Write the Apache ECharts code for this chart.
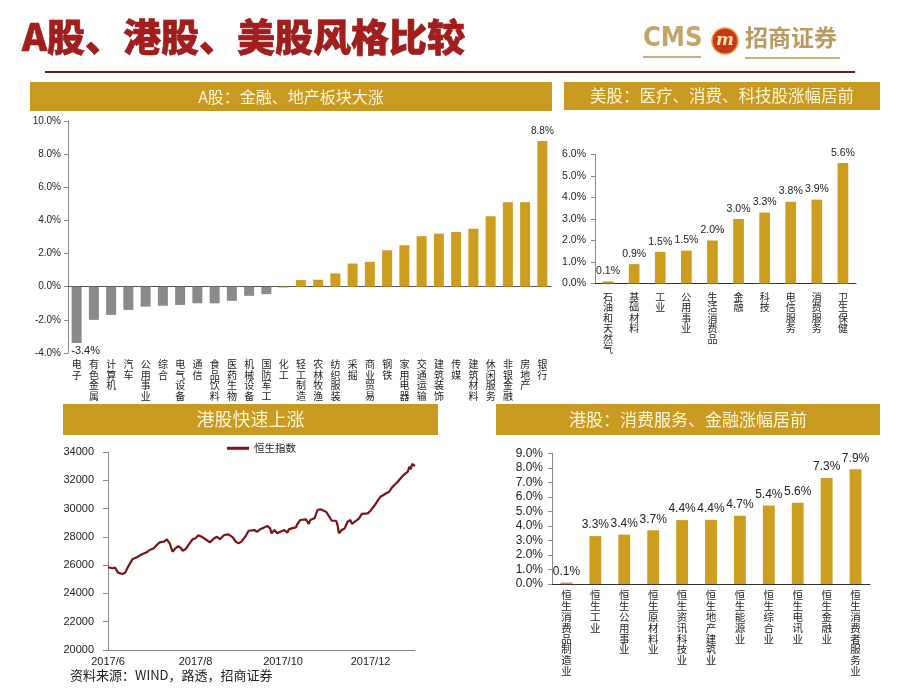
<!DOCTYPE html>
<html><head><meta charset="utf-8">
<script src="https://cdn.jsdelivr.net/npm/echarts@6/dist/echarts.min.js"></script>
<style>html,body{margin:0;padding:0;background:#fff}#c{width:920px;height:690px}</style>
</head><body><div id="c"></div>
<script>
// ---------- data ----------
const pageTitle = 'A股、港股、美股风格比较';
const panelTitles = ['A股：金融、地产板块大涨', '美股：医疗、消费、科技股涨幅居前', '港股快速上涨', '港股：消费服务、金融涨幅居前'];
const sourceText = '资料来源：WIND，路透，招商证券';

const aCats = ['电子','有色金属','计算机','汽车','公用事业','综合','电气设备','通信','食品饮料','医药生物','机械设备','国防军工','化工','轻工制造','农林牧渔','纺织服装','采掘','商业贸易','钢铁','家用电器','交通运输','建筑装饰','传媒','建筑材料','休闲服务','非银金融','房地产','银行'];
const aVals = [-3.4,-2.0,-1.7,-1.4,-1.2,-1.15,-1.1,-1.0,-1.0,-0.85,-0.55,-0.45,-0.05,0.4,0.42,0.8,1.4,1.5,2.2,2.5,3.05,3.2,3.3,3.5,4.25,5.1,5.1,8.8];

const usCats = ['石油和天然气','基础材料','工业','公用事业','生活消费品','金融','科技','电信服务','消费服务','卫生保健'];
const usVals = [0.1,0.9,1.47,1.53,2.0,3.0,3.3,3.8,3.9,5.6];

const hkCats = ['恒生消费品制造业','恒生工业','恒生公用事业','恒生原材料业','恒生资讯科技业','恒生地产建筑业','恒生能源业','恒生综合业','恒生电讯业','恒生金融业','恒生消费者服务业'];
const hkVals = [0.1,3.3,3.4,3.7,4.4,4.42,4.7,5.4,5.6,7.3,7.9];

const hsiName = '恒生指数';
const hsiStart = '2017-06-01';
const hsiEnd = '2018-01-01';
const hsiTickDates = ['2017-06-01','2017-08-01','2017-10-01','2017-12-01'];
const hsiDates = ['2017-06-01','2017-06-02','2017-06-04','2017-06-06','2017-06-08','2017-06-11','2017-06-13','2017-06-15','2017-06-18','2017-06-21','2017-06-25','2017-06-28','2017-06-30',
'2017-07-03','2017-07-05','2017-07-07','2017-07-10','2017-07-12','2017-07-14','2017-07-16','2017-07-18','2017-07-20','2017-07-22','2017-07-23','2017-07-25','2017-07-27','2017-07-30',
'2017-08-01','2017-08-03','2017-08-06','2017-08-08','2017-08-11','2017-08-14','2017-08-16','2017-08-18','2017-08-21','2017-08-24','2017-08-27','2017-08-29','2017-08-31',
'2017-09-02','2017-09-05','2017-09-07','2017-09-11','2017-09-13','2017-09-15','2017-09-18','2017-09-20','2017-09-22','2017-09-23','2017-09-25','2017-09-27','2017-09-29',
'2017-10-02','2017-10-04','2017-10-05','2017-10-07','2017-10-10','2017-10-11','2017-10-13','2017-10-17','2017-10-19','2017-10-20','2017-10-23','2017-10-25','2017-10-27','2017-10-31',
'2017-11-02','2017-11-04','2017-11-07','2017-11-08','2017-11-09','2017-11-11','2017-11-13','2017-11-15','2017-11-17','2017-11-18','2017-11-21','2017-11-23','2017-11-25','2017-11-29',
'2017-12-01','2017-12-04','2017-12-06','2017-12-08','2017-12-12','2017-12-14','2017-12-16','2017-12-17','2017-12-20','2017-12-22','2017-12-24','2017-12-27','2017-12-28','2017-12-29','2017-12-30','2017-12-31','2018-01-01'];
const hsiVals = [25850,25940,25780,25820,25470,25370,25470,25890,26410,26550,26790,26910,27070,
27190,27420,27610,27660,27830,27540,26950,27190,27350,27190,27020,27120,27420,27830,
27900,28110,27970,27830,27610,27900,28010,27830,28130,28180,27970,27660,27540,
27660,28060,28430,28480,28360,28530,28670,28770,28600,28250,28480,28250,28360,
28480,28290,28530,28600,28670,28910,29190,29240,28910,29190,29310,29900,29950,29780,
29470,29140,29140,28840,28250,28480,28600,29070,29190,28910,29140,29310,29620,29660,
29850,30250,30560,30840,31080,31190,31500,31360,31900,32140,32370,32610,32960,32780,33150,33080,33010];

// ---------- helpers ----------
const CN = "'Noto Sans CJK SC', sans-serif";
const NUM = "'Liberation Sans', 'Noto Sans CJK SC', sans-serif";
const GOLD = '#CC9D1E';
const HEAD = '#C99A22';
const vert = s => s.split('').join('\n');
const pct = v => Number(v).toFixed(1) + '%';

const hsiDays = [];
(function(){ let t = Date.parse(hsiStart + 'T00:00:00Z'); const e = Date.parse(hsiEnd + 'T00:00:00Z');
  while (t <= e) { hsiDays.push(new Date(t).toISOString().slice(0,10)); t += 86400000; } })();
const hsiMap = {}; hsiDates.forEach((d,i) => hsiMap[d] = hsiVals[i]);
const hsiSeries = hsiDays.map(d => (d in hsiMap) ? hsiMap[d] : null);

const aLast = aVals.length - 1;
const aData = aVals.map((v,i) => ({
  value: v,
  itemStyle: { color: v < -0.1 ? '#8A8A8A' : GOLD },
  label: { show: i === 0 || i === aLast, position: v < 0 ? 'bottom' : 'top', offset: v < 0 ? [9, -3] : [0, 0],
           fontSize: v < 0 ? 11 : 10 }
}));

const yLab = (extra) => Object.assign({ color: '#222', fontSize: 10, fontFamily: NUM }, extra || {});
const catLab = (extra) => Object.assign({ interval: 0, formatter: vert, color: '#222', fontSize: 10, lineHeight: 10.5, fontFamily: CN }, extra || {});

function header(x, y, w, h, text, fs) {
  return [
    { type: 'rect', shape: { x, y, width: w, height: h }, style: { fill: HEAD }, silent: true },
    { type: 'text', x: x + w / 2, y: y + h / 2, style: { text, fill: '#FFF6D8', font: `${fs}px ${CN}`, textAlign: 'center', textVerticalAlign: 'middle' }, silent: true }
  ];
}

const chart = echarts.init(document.getElementById('c'), null, { renderer: 'canvas' });
const option = {
  animation: false,
  backgroundColor: '#fff',
  grid: [
    { left: 68, top: 121, width: 483, height: 232 },
    { left: 595, top: 154.5, width: 261, height: 129 },
    { left: 108, top: 452, width: 307, height: 198 },
    { left: 552, top: 453.3, width: 318, height: 130.7 }
  ],
  legend: {
    data: [hsiName], left: 222, top: 438, icon: 'rect', itemWidth: 22, itemHeight: 3,
    textStyle: { fontSize: 10.5, color: '#222', fontFamily: CN }, itemStyle: { color: '#7A1515' }
  },
  xAxis: [
    { gridIndex: 0, type: 'category', data: aCats, position: 'bottom', axisLine: { show: false, onZero: false }, axisTick: { show: false },
      axisLabel: catLab({ margin: 6 }) },
    { gridIndex: 0, type: 'category', data: aCats, position: 'bottom', axisLine: { show: true, onZero: true, lineStyle: { color: '#555', width: 1 } },
      axisTick: { show: false }, axisLabel: { show: false } },
    { gridIndex: 1, type: 'category', data: usCats, axisLine: { lineStyle: { color: '#333' } }, axisTick: { show: false },
      axisLabel: catLab({ margin: 8 }) },
    { gridIndex: 2, type: 'category', data: hsiDays, boundaryGap: false, axisLine: { lineStyle: { color: '#888' } }, axisTick: { show: false },
      axisLabel: { interval: (i, v) => hsiTickDates.includes(v), formatter: v => { const p = v.split('-'); return p[0] + '/' + (+p[1]); },
        color: '#222', fontSize: 11, fontFamily: NUM, margin: 6, hideOverlap: false } },
    { gridIndex: 3, type: 'category', data: hkCats, axisLine: { lineStyle: { color: '#333' } }, axisTick: { show: false },
      axisLabel: catLab({ margin: 6, lineHeight: 10.8, fontSize: 10.5 }) }
  ],
  yAxis: [
    { gridIndex: 0, type: 'value', min: -4, max: 10, interval: 2, splitLine: { show: false },
      axisLine: { show: true, lineStyle: { color: '#888' } }, axisTick: { show: true, length: 4, lineStyle: { color: '#888' } },
      axisLabel: yLab({ formatter: pct, margin: 7 }) },
    { gridIndex: 1, type: 'value', min: 0, max: 6, interval: 1, splitLine: { show: false },
      axisLine: { show: true, lineStyle: { color: '#888' } }, axisTick: { show: true, length: 4, lineStyle: { color: '#888' } },
      axisLabel: yLab({ formatter: pct, margin: 9, fontSize: 10.5 }) },
    { gridIndex: 2, type: 'value', min: 20000, max: 34000, interval: 2000, splitLine: { show: false },
      axisLine: { show: true, lineStyle: { color: '#888' } }, axisTick: { show: true, length: 5, lineStyle: { color: '#888' } },
      axisLabel: yLab({ margin: 14, fontSize: 11, formatter: v => String(v) }) },
    { gridIndex: 3, type: 'value', min: 0, max: 9, interval: 1, splitLine: { show: false },
      axisLine: { show: true, lineStyle: { color: '#888' } }, axisTick: { show: true, length: 4, lineStyle: { color: '#888' } },
      axisLabel: yLab({ formatter: pct, margin: 9, fontSize: 12 }) }
  ],
  series: [
    { type: 'bar', xAxisIndex: 0, yAxisIndex: 0, data: aData, barWidth: '58%',
      label: { formatter: p => pct(p.value), color: '#222', fontFamily: NUM, distance: 5 } },
    { type: 'bar', xAxisIndex: 2, yAxisIndex: 1, data: usVals, barWidth: '41%', itemStyle: { color: GOLD },
      label: { show: true, position: 'top', formatter: p => pct(p.value), color: '#222', fontSize: 10.5, fontFamily: NUM, distance: 5 } },
    { type: 'line', name: hsiName, xAxisIndex: 3, yAxisIndex: 2, data: hsiSeries, connectNulls: true, showSymbol: false, symbol: 'none',
      lineStyle: { color: '#7A1515', width: 2.2 }, itemStyle: { color: '#7A1515' } },
    { type: 'bar', xAxisIndex: 4, yAxisIndex: 3, data: hkVals, barWidth: '41%', itemStyle: { color: GOLD },
      label: { show: true, position: 'top', formatter: p => pct(p.value), color: '#222', fontSize: 12, fontFamily: NUM, distance: 5 } }
  ],
  graphic: [
    { type: 'text', x: 22, y: 18, style: { text: pageTitle, fill: '#A31D1D', font: `900 38px ${CN}`, stroke: '#7a1010', lineWidth: 0.6 }, silent: true },
    { type: 'text', x: 643, y: 25, style: { text: 'CMS', fill: '#C3A56A', font: `bold 27px 'DejaVu Sans Condensed', sans-serif` }, silent: true },
    { type: 'rect', shape: { x: 643, y: 56, width: 58, height: 2 }, style: { fill: '#C8B07A' }, silent: true },
    { type: 'circle', shape: { cx: 725, cy: 41, r: 13 }, style: { fill: '#C8361B', stroke: '#E9A23B', lineWidth: 1.5 }, silent: true },
    { type: 'text', x: 725, y: 41, style: { text: 'm', fill: '#FBE3A0', font: `italic bold 17px 'DejaVu Serif', serif`, textAlign: 'center', textVerticalAlign: 'middle' }, silent: true },
    { type: 'text', x: 745, y: 26, style: { text: '招商证券', fill: '#B89B60', font: `bold 23px ${CN}` }, silent: true },
    { type: 'rect', shape: { x: 745, y: 57, width: 95, height: 2 }, style: { fill: '#C8B07A' }, silent: true },
    { type: 'rect', shape: { x: 45, y: 71, width: 810, height: 2 }, style: { fill: '#5A1E1E' }, silent: true },
    ...header(30, 82, 522, 29, panelTitles[0], 16),
    ...header(564, 82, 316, 28, panelTitles[1], 16.5),
    ...header(63, 404, 375, 31, panelTitles[2], 18),
    ...header(496, 404, 384, 31, panelTitles[3], 17),
    { type: 'text', x: 70, y: 669, style: { text: sourceText, fill: '#222', font: `13px ${CN}` }, silent: true }
  ]
};
chart.setOption(option);
</script>
</body></html>
